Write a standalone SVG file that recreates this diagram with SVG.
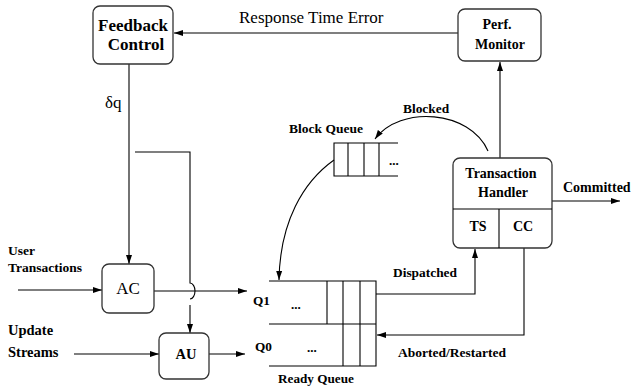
<svg xmlns="http://www.w3.org/2000/svg" width="640" height="387" viewBox="0 0 640 387">
<defs>
<marker id="ah" markerUnits="userSpaceOnUse" markerWidth="10" markerHeight="8" refX="9" refY="4" orient="auto">
<path d="M0,1 L9,4 L0,7 Z" fill="#000"/>
</marker>
<style>
.box{fill:#fff;stroke:#333;stroke-width:1.3}
.ln{fill:none;stroke:#000;stroke-width:1.1}
.arr{fill:none;stroke:#000;stroke-width:1.1;marker-end:url(#ah)}
.b{font-family:"Liberation Serif",serif;font-weight:bold;fill:#000}
.r{font-family:"Liberation Serif",serif;fill:#000}
.c{text-anchor:middle}
</style>
</defs>
<rect width="640" height="387" fill="#fff"/>

<g id="connectors">
<path class="arr" d="M458,33 H174"/>
<path class="arr" d="M500,158 V62"/>
<path class="arr" d="M488,151 C470,110 400,105 375,139"/>
<path class="arr" d="M334,160 C303,182 280,222 279,280"/>
<path class="arr" d="M552,201 H620"/>
<path class="arr" d="M129,64 V264"/>
<path class="ln" d="M135,152 H190 V283 A5,8 0 0 1 190,299"/>
<path class="arr" d="M190,305 V333"/>
<path class="arr" d="M18,290 H102"/>
<path class="arr" d="M154,291 H247"/>
<path class="arr" d="M74,354 H159"/>
<path class="arr" d="M209,354 H245"/>
<path class="arr" d="M376,294 H475 V249"/>
<path class="arr" d="M524,248 V335 H377"/>
</g>

<g id="feedback">
<rect class="box" x="93" y="6" width="80" height="58" rx="7"/>
<text class="b c" x="133" y="31" font-size="17">Feedback</text>
<text class="b c" x="136" y="50" font-size="17">Control</text>
</g>
<text class="r" x="239" y="23" font-size="17">Response Time Error</text>

<g id="perf">
<rect class="box" x="458" y="9" width="83" height="52" rx="7"/>
<text class="b c" x="497" y="29" font-size="14">Perf.</text>
<text class="b c" x="500" y="49" font-size="14">Monitor</text>
</g>

<g id="handler">
<rect class="box" x="453" y="158" width="99" height="90" rx="7"/>
<path class="ln" d="M453,209 H552 M499,209 V248"/>
<text class="b c" x="501" y="178" font-size="14">Transaction</text>
<text class="b c" x="503" y="197" font-size="14">Handler</text>
<text class="b c" x="478" y="231" font-size="14">TS</text>
<text class="b c" x="523" y="231" font-size="14">CC</text>
</g>
<text class="b" x="563" y="192" font-size="14">Committed</text>
<text class="b" x="403" y="113" font-size="13.4">Blocked</text>

<g id="blockqueue">
<path class="ln" d="M398,143 H334 V176 H398 M348,143 V176 M364,143 V176 M379,143 V176"/>
<text class="b" x="389" y="165" font-size="13">...</text>
</g>
<text class="b" x="289" y="133" font-size="13.5">Block Queue</text>

<g id="readyqueue">
<path class="ln" d="M269,281 H376 V366 H269 M269,324 H376 M327,281 V324 M343,281 V366 M360,281 V366"/>
<text class="b" x="291" y="309" font-size="13">...</text>
<text class="b" x="307" y="352" font-size="13">...</text>
<text class="b" x="253" y="305" font-size="13.3">Q1</text>
<text class="b" x="255" y="351" font-size="13.3">Q0</text>
</g>
<text class="b" x="278" y="383" font-size="13.2">Ready Queue</text>
<text class="b" x="393" y="277" font-size="13.4">Dispatched</text>
<text class="b" x="398" y="357" font-size="13.5">Aborted/Restarted</text>

<g id="ac">
<rect class="box" x="102" y="264" width="52" height="49" rx="7"/>
<text class="r c" x="128" y="294" font-size="17">AC</text>
</g>
<g id="au">
<rect class="box" x="159" y="333" width="50" height="46" rx="7"/>
<text class="b c" x="186" y="359" font-size="14.5">AU</text>
</g>
<text class="r" x="105" y="108" font-size="17">δq</text>
<text class="b" x="8" y="255" font-size="13.5">User</text>
<text class="b" x="8" y="272" font-size="13.5">Transactions</text>
<text class="b" x="8" y="335" font-size="14.5">Update</text>
<text class="b" x="8" y="357" font-size="14.5">Streams</text>
</svg>
